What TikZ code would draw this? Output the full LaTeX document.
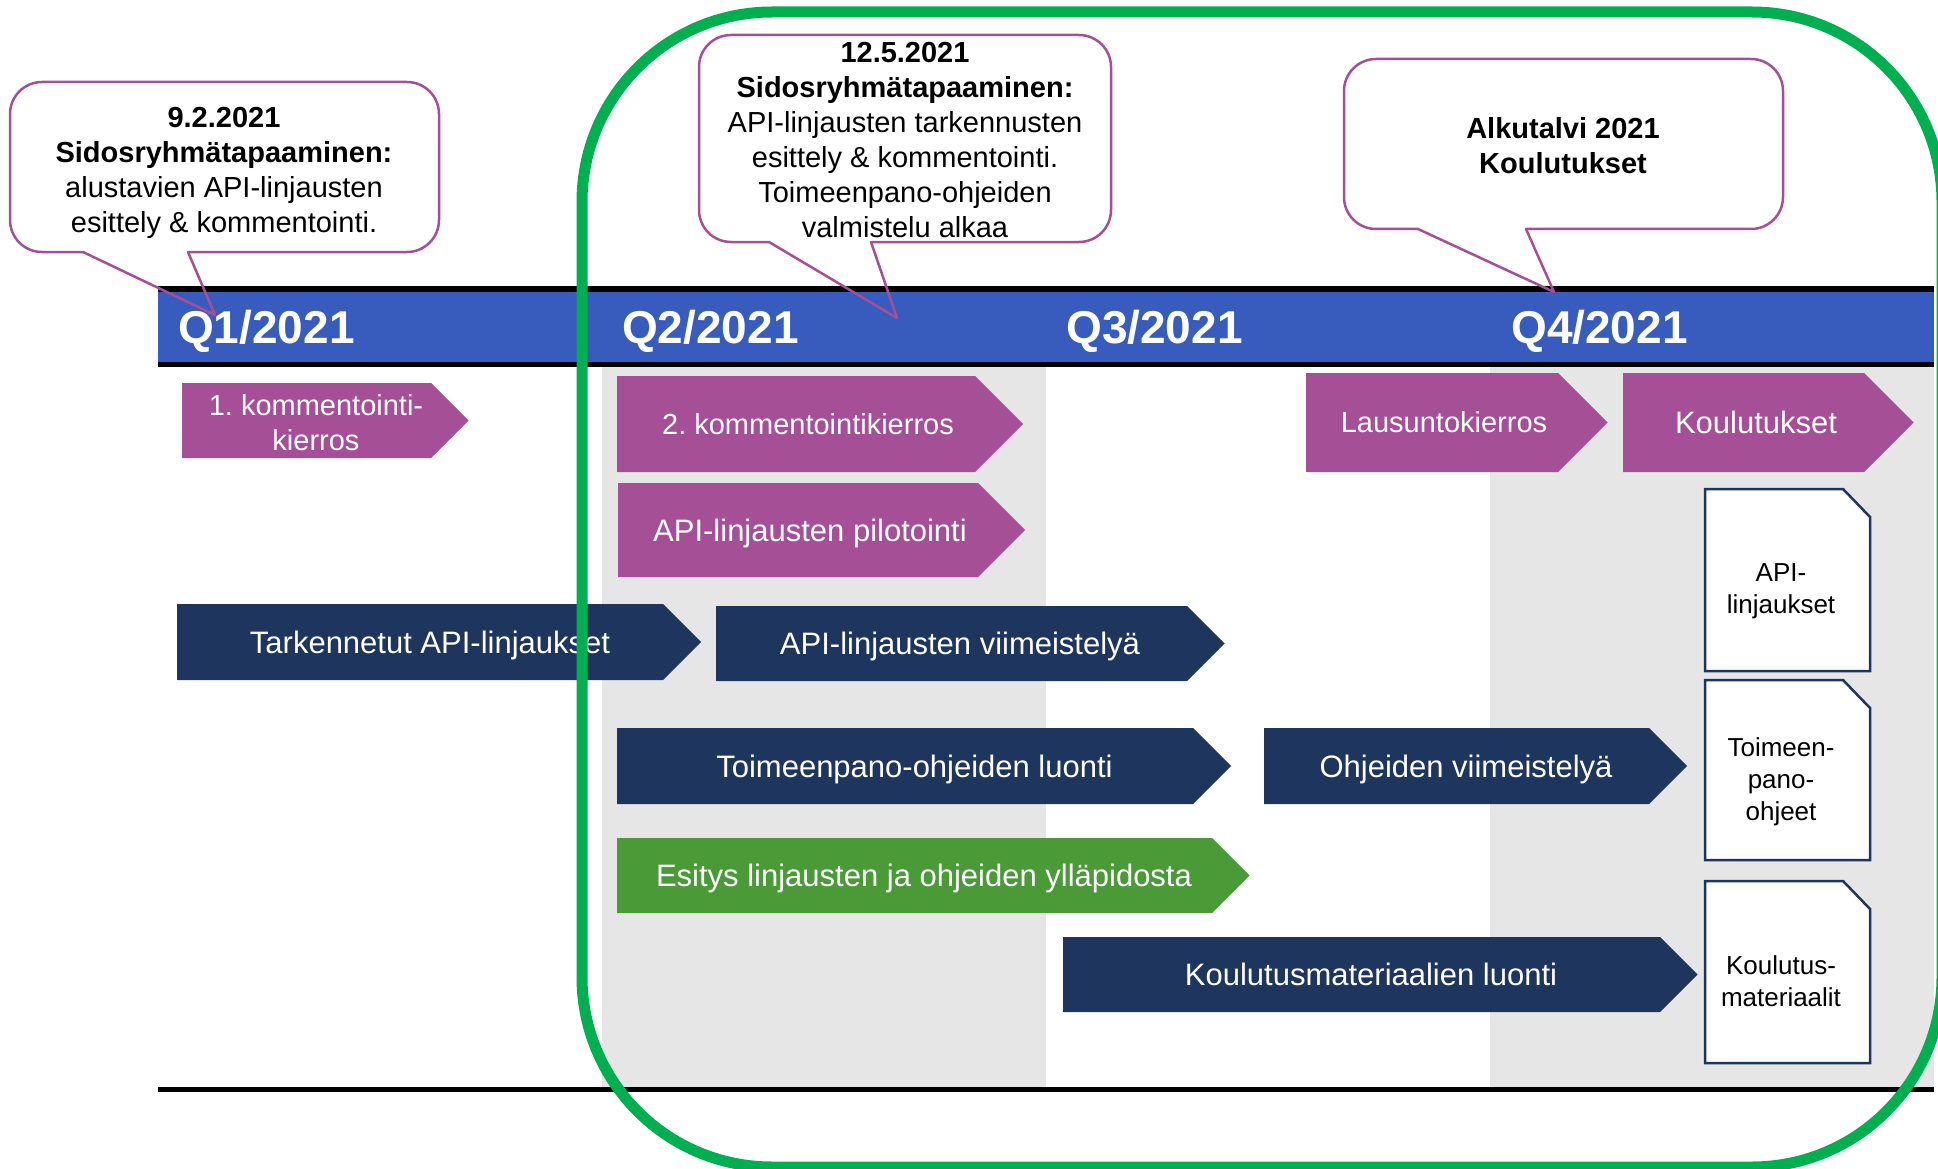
\documentclass[tikz,border=0pt]{standalone}
\usepackage{fontspec}
\setmainfont{Liberation Sans}
\frenchspacing
\definecolor{cpurple}{RGB}{164,79,150}
\definecolor{cnavy}{RGB}{30,54,93}
\definecolor{cgreenbox}{RGB}{74,154,56}
\definecolor{cband}{RGB}{56,92,190}
\definecolor{cgray}{RGB}{230,230,230}
\definecolor{cgreen}{RGB}{0,176,80}
\newcommand\homeplate[5]{\fill[#5] (#1,#3) -- (#2,#3) -- ({#2+(#4-#3)/2},{(#3+#4)/2}) -- (#2,#4) -- (#1,#4) -- cycle;}
\tikzset{
  wl/.style={text=white, inner sep=0pt, font=\fontsize{31}{37}\selectfont, text height=22.3pt, text depth=0pt},
  wls/.style={text=white, inner sep=0pt, font=\fontsize{29}{35}\selectfont, text height=20.8pt, text depth=0pt},
  wlm/.style={text=white, inner sep=0pt, align=center, font=\fontsize{29}{35}\selectfont},
  qlbl/.style={text=white, inner sep=0pt, anchor=base west, font=\fontsize{46}{50}\selectfont\bfseries},
  ctext/.style={text=black, inner sep=0pt, align=center, font=\fontsize{29}{35}\selectfont},
  dtext/.style={text=black, inner sep=0pt, align=center, font=\fontsize{26}{32}\selectfont},
  cout/.style={draw=cpurple, line width=2.5pt, line join=round, line cap=round},
  docshape/.style={fill=white, draw=cnavy, line width=2.5pt},
}
\begin{document}
\begin{tikzpicture}[x=1pt,y=-1pt]
\useasboundingbox (0,0) rectangle (1938,1169);
% gray quarter columns
\fill[cgray] (602,367) rectangle (1046,1087);
\fill[cgray] (1490,367) rectangle (1934,1087);
% header band
\fill[black] (158,286) rectangle (1934,367);
\fill[cband] (158,292) rectangle (1934,362);
\node[qlbl] (q1) at (178,343) {Q1/2021};
\node[qlbl] (q2) at (622,343) {Q2/2021};
\node[qlbl] (q3) at (1066,343) {Q3/2021};
\node[qlbl] (q4) at (1511,343) {Q4/2021};
% bottom line
\fill[black] (158,1087) rectangle (1934,1092);
% purple arrows
\homeplate{182}{431}{383}{458}{cpurple}
\node[wlm] (k1) at (316,422.5) {1. kommentointi-\\kierros};
\homeplate{617}{975}{376}{472}{cpurple}
\node[wls] (k2) at (808,424) {2. kommentointikierros};
\homeplate{618}{978}{483}{577}{cpurple}
\node[wl] (pilot) at (810,530) {API-linjausten pilotointi};
\homeplate{1306}{1558}{373}{472}{cpurple}
\node[wls] (laus) at (1444,422.5) {Lausuntokierros};
\homeplate{1623}{1864}{373}{472}{cpurple}
\node[wl] (koul) at (1756,422.5) {Koulutukset};
% navy arrows
\homeplate{177}{663}{604}{680}{cnavy}
\node[wl] (tark) at (430,642) {Tarkennetut API-linjaukset};
\homeplate{716}{1187}{606}{681}{cnavy}
\node[wl] (viim) at (960,643.5) {API-linjausten viimeistelyä};
\homeplate{617}{1193}{728}{804}{cnavy}
\node[wl] (toim) at (914.5,766) {Toimeenpano-ohjeiden luonti};
\homeplate{1264}{1649}{728}{804}{cnavy}
\node[wl] (ohje) at (1466,766) {Ohjeiden viimeistelyä};
\homeplate{617}{1212}{838}{913}{cgreenbox}
\node[wl] (esit) at (924,875.5) {Esitys linjausten ja ohjeiden ylläpidosta};
\homeplate{1063}{1660}{937}{1012}{cnavy}
\node[wl] (kmat) at (1371,974.5) {Koulutusmateriaalien luonti};
% documents
\filldraw[docshape] (1705,489) -- (1843,489) -- (1870,517) -- (1870,671) -- (1705,671) -- cycle;
\node[dtext] (d1) at (1781,591.5) {API-\\linjaukset};
\filldraw[docshape] (1705,680) -- (1843,680) -- (1870,708) -- (1870,860) -- (1705,860) -- cycle;
\node[dtext] (d2) at (1781,782) {Toimeen-\\pano-\\ohjeet};
\filldraw[docshape] (1705,881) -- (1843,881) -- (1870,909) -- (1870,1063) -- (1705,1063) -- cycle;
\node[dtext] (d3) at (1781,981) {Koulutus-\\materiaalit};
% callouts
\draw[cout, rounded corners=32pt] (188,252) -- (439,252) -- (439,82) -- (10,82) -- (10,252) -- (83,252);
\draw[cout] (83,252) -- (215,315) -- (188,252);
\node[ctext] (c1) at (224,172.5) {\textbf{9.2.2021}\\\textbf{Sidosryhmätapaaminen:}\\alustavien API-linjausten\\esittely \& kommentointi.};
\draw[cout, rounded corners=32pt] (871,242) -- (1111,242) -- (1111,35) -- (699,35) -- (699,242) -- (769,242);
\draw[cout] (769,242) -- (897,318) -- (871,242);
\node[ctext] (c2) at (905,140) {\textbf{12.5.2021}\\\textbf{Sidosryhmätapaaminen:}\\API-linjausten tarkennusten\\esittely \& kommentointi.\\Toimeenpano-ohjeiden\\valmistelu alkaa};
\draw[cout, rounded corners=32pt] (1526,229) -- (1783,229) -- (1783,59) -- (1344,59) -- (1344,229) -- (1418,229);
\draw[cout] (1418,229) -- (1554,292) -- (1526,229);
\node[ctext, font=\fontsize{29}{35}\selectfont\bfseries] (c3) at (1563,145.5) {Alkutalvi 2021\\Koulutukset};
% green frame
\draw[cgreen, line width=11pt, rounded corners=190pt] (582,12) rectangle (1942,1167);
\end{tikzpicture}
\end{document}
